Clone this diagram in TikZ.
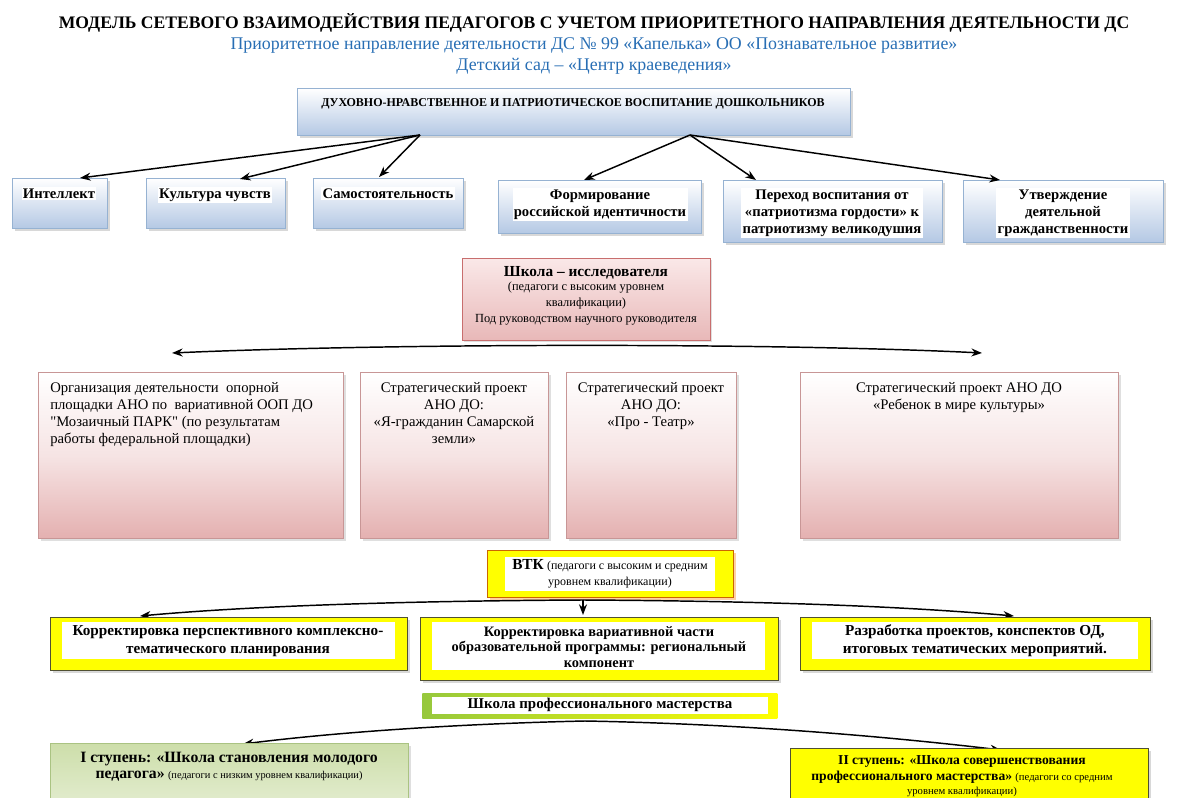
\documentclass[tikz,border=0pt]{standalone}
\usepackage{fontspec}
\setmainfont{Liberation Serif}
\usetikzlibrary{shadows,arrows.meta}
\definecolor{titleblue}{RGB}{40,110,180}
\definecolor{bluebot}{RGB}{180,200,228}
\definecolor{blueedge}{RGB}{150,178,210}
\definecolor{pinkbot}{RGB}{228,176,176}
\definecolor{pinkmid}{RGB}{246,228,228}
\definecolor{pinkedge}{RGB}{200,150,150}
\definecolor{schtop}{RGB}{250,232,232}
\definecolor{schbot}{RGB}{232,184,184}
\definecolor{schedge}{RGB}{200,110,110}
\definecolor{yel}{RGB}{255,255,0}
\definecolor{yeledge}{RGB}{80,80,50}
\definecolor{grn}{RGB}{150,200,60}
\definecolor{grnbox}{RGB}{205,222,170}
\definecolor{grnedge}{RGB}{170,195,130}
\newcommand\straightq{\XeTeXglyph\XeTeXglyphindex "quotedbl" }
\newcommand\mybox[6]{%
 \pgfmathsetmacro\bxw{(#4-#2)*0.75}%
 \pgfmathsetmacro\bxh{(#5-#3)*0.75}%
 \node[#6, minimum width=\bxw pt, minimum height=\bxh pt, anchor=north west, inner sep=0pt] (#1) at (#2,#3) {};}
\tikzset{
 x=0.75pt, y=-0.75pt,
 bluebox/.style={draw=blueedge, line width=0.8pt, top color=white, bottom color=bluebot, drop shadow={shadow xshift=2pt, shadow yshift=-2pt, fill=gray!60}},
 pinkbox/.style={draw=pinkedge, line width=0.8pt, top color=white, bottom color=pinkbot, middle color=pinkmid, drop shadow={shadow xshift=2pt, shadow yshift=-2pt, fill=gray!50}},
 schbox/.style={draw=schedge, line width=0.6pt, top color=schtop, bottom color=schbot, drop shadow={shadow xshift=1.5pt, shadow yshift=-1.5pt, fill=gray!50}},
 ybox/.style={draw=yeledge, line width=0.8pt, fill=yel, drop shadow={shadow xshift=2pt, shadow yshift=-2pt, fill=gray!60}},
 vbox/.style={draw=orange!80!black, line width=0.8pt, fill=yel, drop shadow={shadow xshift=2pt, shadow yshift=-2pt, fill=orange!70}},
 gbox/.style={draw=grnedge, line width=0.8pt, top color=grnbox, bottom color=grnbox!60, drop shadow={shadow xshift=2pt, shadow yshift=-2pt, fill=gray!50}},
 mbox/.style={draw=none, left color=grn, right color=yel},
 inner/.style={fill=white, draw=none, inner sep=0pt},
 bt/.style={font=\bfseries\fontsize{11}{12.75}\selectfont, align=center, inner sep=1pt},
 rt/.style={font=\fontsize{11}{12.75}\selectfont, inner sep=0pt},
 arr/.style={-{Stealth[length=8pt,width=6pt]}, line width=1.1pt},
}
\begin{document}
\begin{tikzpicture}
\useasboundingbox (0,0) rectangle (1189,798);
% titles
\node[font=\bfseries\fontsize{13.2}{15}\selectfont] (title) at (594,23) {МОДЕЛЬ СЕТЕВОГО ВЗАИМОДЕЙСТВИЯ ПЕДАГОГОВ С УЧЕТОМ ПРИОРИТЕТНОГО НАПРАВЛЕНИЯ ДЕЯТЕЛЬНОСТИ ДС};
\node[font=\fontsize{13.4}{15}\selectfont, text=titleblue] (sub1) at (594,45) {Приоритетное направление деятельности ДС № 99 «Капелька» ОО «Познавательное развитие»};
\node[font=\fontsize{13.4}{15}\selectfont, text=titleblue] (sub2) at (594,66) {Детский сад – «Центр краеведения»};
% top box
\mybox{top}{297}{88}{850}{135}{bluebox}
\node[font=\bfseries\fontsize{9}{10}\selectfont] (toptext) at (573,104) {ДУХОВНО-НРАВСТВЕННОЕ И ПАТРИОТИЧЕСКОЕ ВОСПИТАНИЕ ДОШКОЛЬНИКОВ};
% row 1
\mybox{b1}{12}{178}{107}{228}{bluebox}
\mybox{b2}{146}{178}{285}{228}{bluebox}
\mybox{b3}{313}{178}{463}{228}{bluebox}
\mybox{b4}{498}{180}{701}{233}{bluebox}
\mybox{b5}{723}{180}{942}{242}{bluebox}
\mybox{b6}{963}{180}{1163}{242}{bluebox}
\node[bt, fill=white, anchor=north] (t1) at (59,187) {Интеллект};
\node[bt, fill=white, anchor=north] (t2) at (215,187) {Культура чувств};
\node[bt, fill=white, anchor=north] (t3) at (388,187) {Самостоятельность};
\node[bt, fill=white, anchor=north] (t4) at (600,188) {Формирование\\российской идентичности};
\node[bt, fill=white, anchor=north] (t5) at (832,188) {Переход воспитания от\\«патриотизма гордости» к\\патриотизму великодушия};
\node[bt, fill=white, anchor=north] (t6) at (1063,188) {Утверждение\\деятельной\\гражданственности};
% arrows from top box
\coordinate (tl) at (420,135);
\coordinate (tr) at (690,135);
\draw[arr] (tl) -- (80,178);
\draw[arr] (tl) -- (240,179);
\draw[arr] (tl) -- (379,177);
\draw[arr] (tr) -- (584,180);
\draw[arr] (tr) -- (756,180);
\draw[arr] (tr) -- (1000,180);
% school researcher
\mybox{sch}{462}{258}{710}{340}{schbox}
\node[align=center, inner sep=0pt, anchor=north] (scht) at (586,266) {{\bfseries\fontsize{11.5}{13}\selectfont Школа – исследователя}\\[-1pt]{\fontsize{9.3}{10.5}\selectfont (педагоги с высоким уровнем}\\{\fontsize{9.3}{10.5}\selectfont квалификации)}\\{\fontsize{9.3}{11}\selectfont Под руководством научного руководителя}};
\coordinate (hl) at (172,353);
\coordinate (hr) at (982,353);
\draw[{Stealth[length=8pt,width=6pt]}-{Stealth[length=8pt,width=6pt]}, line width=1.1pt] (hl) .. controls (400,343) and (780,343) .. (hr);
% pink project boxes
\mybox{p1}{38}{372}{343}{538}{pinkbox}
\mybox{p2}{360}{372}{548}{538}{pinkbox}
\mybox{p3}{566}{372}{736}{538}{pinkbox}
\mybox{p4}{800}{372}{1118}{538}{pinkbox}
\node[rt, align=left, anchor=north west] (pt1) at (50,382) {Организация деятельности \ опорной\\площадки АНО по \ вариативной ООП ДО\\\straightq Мозаичный ПАРК\straightq\ (по результатам\\работы федеральной площадки)};
\node[rt, align=center, anchor=north] (pt2) at (454,382) {Стратегический проект\\АНО ДО:\\«Я-гражданин Самарской\\земли»};
\node[rt, align=center, anchor=north] (pt3) at (651,382) {Стратегический проект\\АНО ДО:\\«Про - Театр»};
\node[rt, align=center, anchor=north] (pt4) at (959,382) {Стратегический проект АНО ДО\\«Ребенок в мире культуры»};
% VTK
\mybox{vtk}{487}{550}{733}{597}{vbox}
\mybox{vtkin}{505}{557}{715}{591}{inner}
\node[align=center, inner sep=0pt] (vtkt) at (610,574) {{\bfseries\fontsize{11.5}{13}\selectfont ВТК} {\fontsize{9}{10}\selectfont (педагоги с высоким и средним}\\{\fontsize{9}{11}\selectfont уровнем квалификации)}};
\coordinate (vc) at (583,600);
\draw[arr] (vc) .. controls (400,601) and (250,606) .. (140,616);
\draw[arr] (vc) -- (583,615);
\draw[arr] (vc) .. controls (760,601) and (900,606) .. (1014,616);
% yellow row
\mybox{y1}{50}{617}{407}{670}{ybox}
\mybox{y2}{420}{617}{778}{680}{ybox}
\mybox{y3}{800}{617}{1150}{670}{ybox}
\mybox{y1in}{62}{622}{395}{659}{inner}
\mybox{y2in}{432}{622}{765}{670}{inner}
\mybox{y3in}{812}{622}{1138}{659}{inner}
\node[bt, font=\bfseries\fontsize{11.4}{13.5}\selectfont] (yt1) at (228,641) {Корректировка перспективного комплексно-\\тематического планирования};
\node[bt, font=\bfseries\fontsize{10.8}{11.8}\selectfont] (yt2) at (599,647) {Корректировка вариативной части\\образовательной программы: региональный\\компонент};
\node[bt, font=\bfseries\fontsize{11.4}{13.5}\selectfont] (yt3) at (975,641) {Разработка проектов, конспектов ОД,\\итоговых тематических мероприятий.};
% school of mastery
\mybox{mast}{422}{693}{777}{718}{mbox}
\mybox{mastin}{432}{697}{768}{714}{inner}
\node[font=\bfseries\fontsize{11.2}{12}\selectfont, inner sep=0pt] (mastt) at (600,705) {Школа профессионального мастерства};
\coordinate (mc) at (585,721);
\draw[arr] (mc) .. controls (450,724) and (330,733) .. (243,744);
\draw[arr] (mc) .. controls (750,724) and (900,738) .. (1001,750);
% steps
\mybox{s1}{50}{743}{408}{800}{gbox}
\mybox{s2}{790}{748}{1148}{800}{ybox}
\node[align=center, inner sep=0pt, anchor=north] (st1) at (229,752) {{\bfseries\fontsize{11.8}{13.5}\selectfont I ступень: «Школа становления молодого}\\{\bfseries\fontsize{11.8}{13.5}\selectfont педагога»} {\fontsize{7.8}{10}\selectfont (педагоги с низким уровнем квалификации)}};
\node[align=center, inner sep=0pt, anchor=north] (st2) at (962,755) {{\bfseries\fontsize{10.2}{11.5}\selectfont II ступень: «Школа совершенствования}\\{\bfseries\fontsize{10.2}{11.5}\selectfont профессионального мастерства»} {\fontsize{8}{9}\selectfont (педагоги со средним}\\[-1.5pt]{\fontsize{8}{8}\selectfont уровнем квалификации)}};
\end{tikzpicture}
\end{document}
